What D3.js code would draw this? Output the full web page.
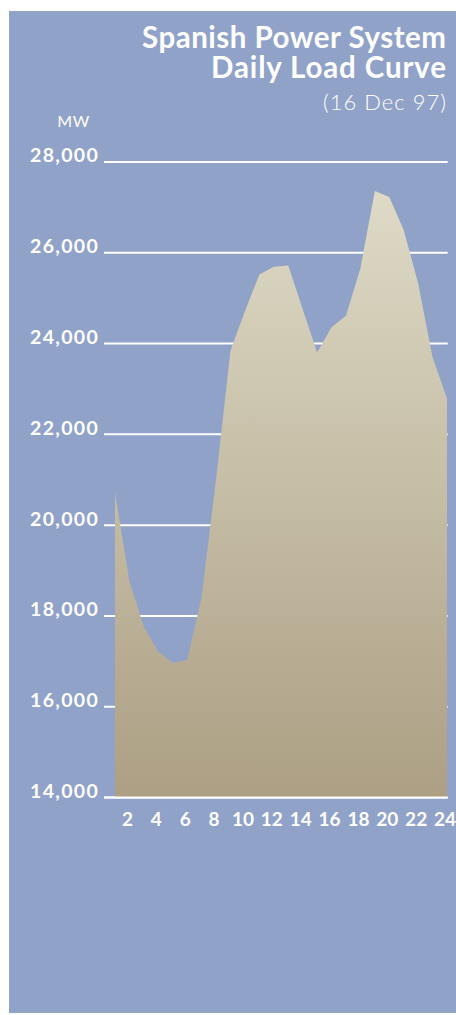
<!DOCTYPE html>
<html>
<head>
<meta charset="utf-8">
<script src="https://cdn.jsdelivr.net/npm/d3@7"></script>
<style>
  html, body { margin: 0; padding: 0; background: #ffffff; }
  svg { display: block; }
</style>
</head>
<body>
<svg id="chart" width="456" height="1015"></svg>
<script>
// Hourly load of the Spanish power system, 16 December 1997 (MW)
const hours = [1, 2, 3, 4, 5, 6, 7, 8, 9, 10, 11, 12, 13, 14, 15, 16, 17, 18, 19, 20, 21, 22, 23, 24];
const loadMW = [20700, 18750, 17750, 17200, 16950, 17020, 18400, 21000, 23830, 24700, 25510, 25680,
                25710, 24750, 23790, 24350, 24600, 25650, 27350, 27220, 26490, 25320, 23690, 22780];
const yTicks = [14000, 16000, 18000, 20000, 22000, 24000, 26000, 28000];
const xTicks = [2, 4, 6, 8, 10, 12, 14, 16, 18, 20, 22, 24];
const titleLines = ["Spanish Power System", "Daily Load Curve"];
const subtitle = "(16 Dec 97)";
const unitLabel = "MW";

const data = hours.map((h, i) => ({ hour: h, mw: loadMW[i] }));

const svg = d3.select("#chart");
const FONT = "Lato, 'Noto Sans', sans-serif";

// panel background
svg.append("rect")
  .attr("x", 9).attr("y", 11)
  .attr("width", 447).attr("height", 1002)
  .attr("fill", "#91a2c8");

const gridLeft = 104, gridRight = 447.7;
const x = d3.scaleLinear().domain([1, 24]).range([115, 447]);
const y = d3.scaleLinear().domain([14000, 28000]).range([797, 161.5]);

// fill gradient, light at the top of the scale to darker sand at the base
const defs = svg.append("defs");
const grad = defs.append("linearGradient")
  .attr("id", "loadFill")
  .attr("gradientUnits", "userSpaceOnUse")
  .attr("x1", 0).attr("x2", 0)
  .attr("y1", y(28000)).attr("y2", y(14000));
grad.append("stop").attr("offset", 0).attr("stop-color", "#e0ddc9");
grad.append("stop").attr("offset", 1).attr("stop-color", "#ac9f84");

// horizontal gridlines with their labels
const yAxis = d3.axisLeft(y)
  .tickValues(yTicks)
  .tickSize(-(gridRight - gridLeft))
  .tickPadding(5)
  .tickFormat(d3.format(","));

const gY = svg.append("g")
  .attr("transform", `translate(${gridLeft},0)`)
  .call(yAxis);
gY.select(".domain").remove();
gY.selectAll(".tick line")
  .attr("stroke", "#ffffff")
  .attr("stroke-width", 2);
gY.selectAll(".tick text")
  .attr("dy", "0.02em")
  .attr("fill", "#ffffff")
  .style("font-family", FONT)
  .style("font-weight", 700)
  .style("font-size", "19.5px")
  .style("letter-spacing", "1.3px");

// load area
const area = d3.area()
  .x(d => x(d.hour))
  .y0(y(14000))
  .y1(d => y(d.mw))
  .curve(d3.curveLinear);

svg.append("path")
  .datum(data)
  .attr("d", area)
  .attr("fill", "url(#loadFill)");

// baseline drawn over the area
const gBase = svg.append("g")
  .attr("transform", `translate(${gridLeft},0)`)
  .call(d3.axisLeft(y).tickValues([14000]).tickSize(-(gridRight - gridLeft)).tickFormat(""));
gBase.select(".domain").remove();
gBase.selectAll(".tick line").attr("stroke", "#ffffff").attr("stroke-width", 2);

// hour labels
const gX = svg.append("g")
  .attr("transform", `translate(0,${y(14000)})`)
  .call(d3.axisBottom(x).tickValues(xTicks).tickSize(0).tickPadding(0));
gX.select(".domain").remove();
gX.selectAll(".tick text")
  .attr("x", -2.5)
  .attr("y", 28.5)
  .attr("dy", 0)
  .attr("fill", "#ffffff")
  .style("font-family", FONT)
  .style("font-weight", 700)
  .style("font-size", "19px");

// title block, right-aligned
const titleRight = 446;
const titleSpec = [
  { text: titleLines[0], baseline: 47.5, width: 304, weight: 700, size: 29.5 },
  { text: titleLines[1], baseline: 78, width: 235, weight: 700, size: 29.5 },
  { text: subtitle, baseline: 109.5, width: 123, weight: 300, size: 22 }
];
svg.append("g").selectAll("text")
  .data(titleSpec)
  .join("text")
  .attr("x", d => titleRight - d.width)
  .attr("y", d => d.baseline)
  .attr("textLength", d => d.width)
  .attr("lengthAdjust", "spacing")
  .attr("fill", "#ffffff")
  .style("font-family", FONT)
  .style("font-weight", d => d.weight)
  .style("font-size", d => d.size + "px")
  .text(d => d.text);

// unit label
svg.append("text")
  .attr("x", 73.5)
  .attr("y", 127)
  .attr("text-anchor", "middle")
  .attr("fill", "#ffffff")
  .style("font-family", FONT)
  .style("font-weight", 400)
  .style("font-size", "16px")
  .style("letter-spacing", "0.5px")
  .text(unitLabel);
</script>
</body>
</html>
